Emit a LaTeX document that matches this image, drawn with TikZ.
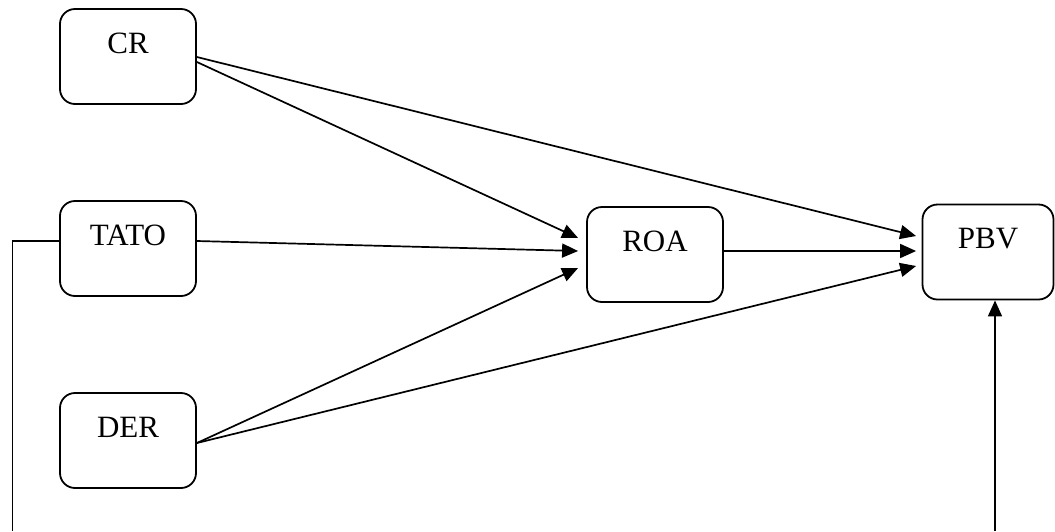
\documentclass[tikz,border=0pt]{standalone}
\usepackage{fontspec}
\setmainfont{Liberation Serif}
\usetikzlibrary{arrows.meta}
\begin{document}
\begin{tikzpicture}[x=1pt,y=-1pt,
  box/.style={draw,line width=1.8pt,rounded corners=15pt,minimum width=136pt,inner sep=0pt,
    text height=44pt,text depth=51pt,font=\fontsize{31}{36}\selectfont},
  conn/.style={line width=1.7pt},
  arr/.style={line width=1.7pt,-{Triangle[length=16pt,width=14pt]}}]
\useasboundingbox[fill=white] (0,0) rectangle (1055,531);
\node[box] (cr) at (128,56.5) {CR};
\node[box] (tato) at (128,248.5) {TATO};
\node[box] (der) at (128,440.5) {DER};
\node[box] (roa) at (655,254.5) {ROA};
\node[box,minimum width=131pt] (pbv) at (988,252) {PBV};
\coordinate (leftend) at (12.5,531);
\coordinate (bottomstart) at (995,531);
% to ROA
\draw[arr] ([yshift=-5.5pt]cr.east) -- ([xshift=-8pt,yshift=16.5pt]roa.west);
\draw[arr] ([yshift=7.5pt]tato.east) -- ([xshift=-8pt,yshift=3.5pt]roa.west);
\draw[arr] ([yshift=-2.5pt]der.east) -- ([xshift=-8pt,yshift=-13.5pt]roa.west);
% to PBV
\draw[arr] ([yshift=-0.5pt]cr.east) -- ([xshift=-5.5pt,yshift=16pt]pbv.west);
\draw[arr] ([yshift=3.5pt]roa.east) -- ([xshift=-5.5pt,yshift=1pt]pbv.west);
\draw[arr] ([yshift=-2.5pt]der.east) -- ([xshift=-5.5pt,yshift=-14pt]pbv.west);
% side lines
\draw[conn] ([yshift=7.5pt]tato.west) -| (leftend);
\draw[arr] (bottomstart) -- ([xshift=7pt]pbv.south);
\end{tikzpicture}
\end{document}
